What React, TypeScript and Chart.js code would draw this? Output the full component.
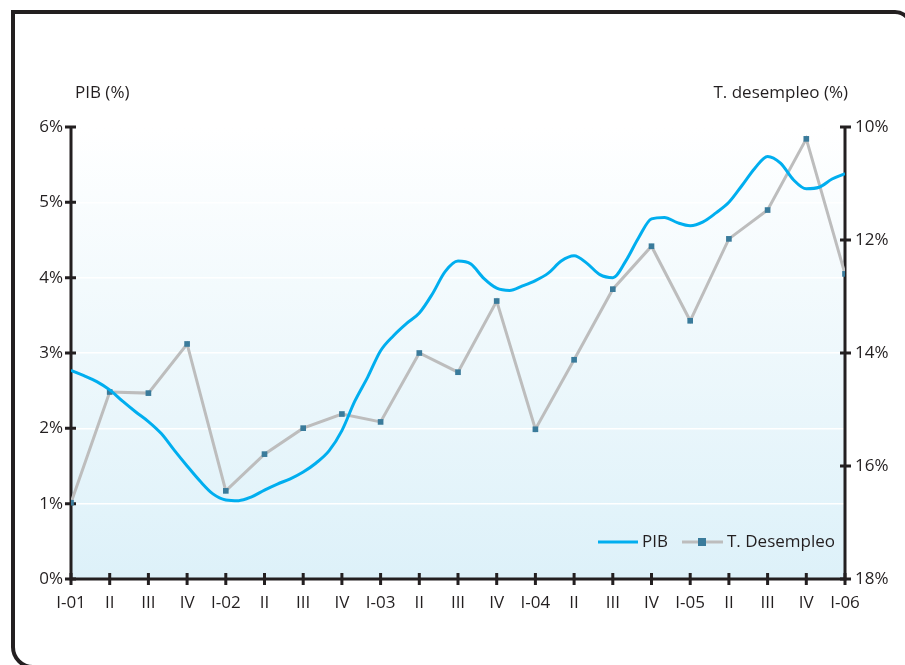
import { useEffect, useRef } from 'react';
import { Chart, registerables } from 'chart.js';

Chart.register(...registerables);

// Quarter labels along the horizontal axis
const quarterLabels = [
  'I-01', 'II', 'III', 'IV',
  'I-02', 'II', 'III', 'IV',
  'I-03', 'II', 'III', 'IV',
  'I-04', 'II', 'III', 'IV',
  'I-05', 'II', 'III', 'IV',
  'I-06',
];

// Unemployment rate (%), one value per quarter — right axis
const unemploymentRate = [
  16.65, 14.69, 14.71, 13.84,
  16.44, 15.79, 15.33, 15.08,
  15.22, 14.0, 14.34, 13.08,
  15.35, 14.12, 12.87, 12.11,
  13.43, 11.98, 11.47, 10.21,
  12.6,
];

// GDP growth (%), monthly readings — left axis
const pibGrowth = [
  2.77, 2.7, 2.62, 2.51, 2.36, 2.22, 2.09, 1.93, 1.71, 1.5, 1.3, 1.13,
  1.05, 1.04, 1.09, 1.18, 1.26, 1.33, 1.42, 1.54, 1.7, 1.97, 2.36, 2.68,
  3.03, 3.23, 3.39, 3.53, 3.78, 4.08, 4.22, 4.18, 3.99, 3.86, 3.83, 3.89,
  3.96, 4.06, 4.22, 4.29, 4.19, 4.04, 4.0, 4.22, 4.53, 4.78, 4.8, 4.73,
  4.69, 4.74, 4.86, 5.0, 5.22, 5.45, 5.61, 5.52, 5.3, 5.18, 5.2, 5.31,
  5.38,
];

const pibTicks = [0, 1, 2, 3, 4, 5, 6];
const unemploymentTicks = [10, 12, 14, 16, 18];

const FONT = '"Open Sans", "DejaVu Sans", sans-serif';
const FONT_SIZE = 17;
const INK = '#231f20';
const PIB_COLOR = '#00aeef';
const LINE_GREY = '#bdbdbd';
const MARKER = '#3a7b9b';

const decorPlugin = {
  id: 'decor',
  beforeDraw(chart: any) {
    const { ctx, chartArea: a } = chart;
    ctx.save();
    // outer frame: square top-left corner, rounded top-right and bottom-left
    ctx.lineWidth = 4;
    ctx.strokeStyle = INK;
    ctx.beginPath();
    ctx.roundRect(13, 12, 898, 655, [0, 16, 0, 20]);
    ctx.stroke();
    // plot background fading from white to pale blue
    const g = ctx.createLinearGradient(0, a.top, 0, a.bottom);
    g.addColorStop(0, '#ffffff');
    g.addColorStop(1, '#ddf1f9');
    ctx.fillStyle = g;
    ctx.fillRect(a.left, a.top, a.right - a.left, a.bottom - a.top);
    ctx.restore();
  },
  beforeDatasetsDraw(chart: any) {
    const { ctx, chartArea: a, scales } = chart;
    ctx.save();
    ctx.strokeStyle = INK;
    ctx.lineWidth = 3;
    ctx.lineCap = 'butt';
    ctx.beginPath();
    // axis lines
    ctx.moveTo(a.left, a.top);
    ctx.lineTo(a.left, a.bottom);
    ctx.moveTo(a.right, a.top);
    ctx.lineTo(a.right, a.bottom);
    ctx.moveTo(a.left - 1.5, a.bottom);
    ctx.lineTo(a.right + 1.5, a.bottom);
    ctx.stroke();
    // tick marks crossing the axes
    ctx.lineWidth = 3;
    ctx.beginPath();
    pibTicks.forEach((v) => {
      const y = scales.y.getPixelForValue(v);
      ctx.moveTo(a.left - 6, y);
      ctx.lineTo(a.left + 5, y);
    });
    unemploymentTicks.forEach((v) => {
      const y = scales.y1.getPixelForValue(v);
      ctx.moveTo(a.right - 5, y);
      ctx.lineTo(a.right + 6, y);
    });
    quarterLabels.forEach((_, i) => {
      const x = scales.x.getPixelForValue(i);
      ctx.moveTo(x, a.bottom - 6);
      ctx.lineTo(x, a.bottom + 6);
    });
    ctx.stroke();
    ctx.restore();
  },
  afterDatasetsDraw(chart: any) {
    const { ctx, chartArea: a } = chart;
    ctx.save();
    ctx.fillStyle = INK;
    ctx.font = `${FONT_SIZE}px ${FONT}`;
    ctx.textBaseline = 'middle';
    // axis titles
    ctx.textAlign = 'left';
    ctx.fillText('PIB (%)', a.left + 4, 93);
    ctx.textAlign = 'right';
    ctx.fillText('T. desempleo (%)', a.right + 3, 93);

    // legend
    const ly = a.bottom - 37;
    ctx.lineWidth = 3;
    ctx.strokeStyle = PIB_COLOR;
    ctx.beginPath();
    ctx.moveTo(598, ly);
    ctx.lineTo(638, ly);
    ctx.stroke();
    ctx.textAlign = 'left';
    ctx.fillText('PIB', 642, ly);

    ctx.strokeStyle = LINE_GREY;
    ctx.beginPath();
    ctx.moveTo(682, ly);
    ctx.lineTo(723, ly);
    ctx.stroke();
    ctx.fillStyle = MARKER;
    ctx.fillRect(698, ly - 4, 8, 8);
    ctx.fillStyle = INK;
    ctx.fillText('T. Desempleo', 727, ly);
    ctx.restore();
  },
};

export default function App() {
  const canvasRef = useRef<HTMLCanvasElement | null>(null);

  useEffect(() => {
    const canvas = canvasRef.current;
    if (!canvas) return;
    const chart = new Chart(canvas, {
      type: 'line',
      data: {
        datasets: [
          {
            label: 'PIB',
            data: pibGrowth.map((v, i) => ({ x: i / 3, y: v })),
            yAxisID: 'y',
            borderColor: PIB_COLOR,
            borderWidth: 3,
            pointRadius: 0,
            tension: 0.4,
            cubicInterpolationMode: 'monotone',
            fill: false,
          },
          {
            label: 'T. Desempleo',
            data: unemploymentRate.map((v, i) => ({ x: i, y: v })),
            yAxisID: 'y1',
            borderColor: LINE_GREY,
            borderWidth: 3,
            pointStyle: 'rect',
            pointRadius: 4,
            pointBackgroundColor: MARKER,
            pointBorderWidth: 0,
            tension: 0,
            fill: false,
          },
        ],
      },
      options: {
        animation: false,
        responsive: false,
        layout: { padding: { top: 127, left: 0, right: 0, bottom: 0 } },
        plugins: {
          legend: { display: false },
          tooltip: { enabled: false },
        },
        scales: {
          x: {
            type: 'linear',
            min: 0,
            max: 20,
            afterBuildTicks: (scale: any) => {
              scale.ticks = quarterLabels.map((_, i) => ({ value: i }));
            },
            afterFit: (scale: any) => {
              scale.height = 86;
            },
            ticks: {
              autoSkip: false,
              maxRotation: 0,
              padding: 14,
              color: INK,
              font: { family: FONT, size: FONT_SIZE },
              callback: (v: any) => quarterLabels[v] ?? '',
            },
            grid: { display: false, drawTicks: false },
            border: { display: false },
          },
          y: {
            position: 'left',
            min: 0,
            max: 6,
            afterBuildTicks: (scale: any) => {
              scale.ticks = pibTicks.map((v) => ({ value: v }));
            },
            afterFit: (scale: any) => {
              scale.width = 71;
            },
            ticks: {
              padding: 8,
              color: INK,
              font: { family: FONT, size: FONT_SIZE },
              callback: (v: any) => `${v}%`,
            },
            grid: { color: '#ffffff', lineWidth: 1.5, drawTicks: false },
            border: { display: false },
          },
          y1: {
            position: 'right',
            min: 10,
            max: 18,
            reverse: true,
            afterBuildTicks: (scale: any) => {
              scale.ticks = unemploymentTicks.map((v) => ({ value: v }));
            },
            afterFit: (scale: any) => {
              scale.width = 60;
            },
            ticks: {
              padding: 10,
              color: INK,
              font: { family: FONT, size: FONT_SIZE },
              callback: (v: any) => `${v}%`,
            },
            grid: { drawOnChartArea: false, drawTicks: false },
            border: { display: false },
          },
        },
      },
      plugins: [decorPlugin],
    });
    return () => chart.destroy();
  }, []);

  return (
    <div style={{ position: 'fixed', left: 0, top: 0, width: 905, height: 665, background: '#ffffff' }}>
      <canvas ref={canvasRef} width={905} height={665} style={{ display: 'block', width: 905, height: 665 }} />
    </div>
  );
}
